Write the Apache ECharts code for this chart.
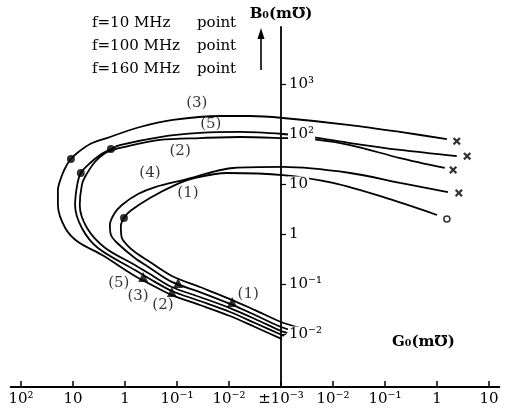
<!DOCTYPE html>
<html>
<head>
<meta charset="utf-8">
<script src="https://cdn.jsdelivr.net/npm/echarts@6/dist/echarts.min.js"></script>
<style>
html,body{margin:0;padding:0;background:#fff;}
#chart{width:509px;height:414px;}
</style>
</head>
<body>
<div id="chart"></div>
<script>
// X axis: symmetric log position of G0 (0 = ±10^-3, left = negative G0 decades, right = positive)
var xTickPos = [-5, -4, -3, -2, -1, 0, 1, 2, 3, 4];
var xTickLabels = ['10²', '10', '1', '10⁻¹', '10⁻²', '±10⁻³', '10⁻²', '10⁻¹', '1', '10'];
var yTickValues = [0.01, 0.1, 1, 10, 100, 1000];
var yTickLabels = ['10⁻²', '10⁻¹', '1', '10', '10²', '10³'];

// Curve (3)
var curve3G = [0.02,-0.50,-0.98,-1.56,-2.10,-2.52,-2.81,-3.44,-3.90,-4.15,-4.29,-4.29,-4.21,-4.12,-4.04,-3.92,-3.67,-3.35,-2.71,-2.08,-1.17,-0.60,0.04,1.33,2.29,3.19];
var curve3B = [0.0079,0.0138,0.0229,0.038,0.060,0.100,0.145,0.38,0.69,1.32,3.8,7.6,15.1,24,31.6,41.7,63,83,138,191,229,229,209,151,110,79];
// Curve (5)
var curve5G = [0.06,-0.50,-0.98,-1.56,-2.10,-2.52,-2.81,-3.52,-3.83,-3.96,-3.92,-3.85,-3.67,-3.48,-3.27,-3.10,-2.33,-1.56,-0.79,0.04,0.60,1.33,2.29,3.38];
var curve5B = [0.0091,0.0166,0.0275,0.0457,0.0724,0.126,0.19,0.525,1.32,3.8,9.5,16.6,26.3,38,50,60,87,105,110,100,87,66,48,36];
// Curve (2)
var curve2G = [0.12,0,-0.50,-0.98,-1.56,-2.10,-2.52,-2.81,-3.38,-3.73,-3.87,-3.83,-3.77,-3.58,-3.38,-3.23,-3.10,-2.33,-1.56,-0.79,0.04,0.60,1.33,2.29,3.15];
var curve2B = [0.0105,0.0115,0.020,0.033,0.055,0.087,0.158,0.24,0.525,1.32,3.8,9.5,13.8,27.5,41.7,47.9,52.5,76,83,87,83,79,60,33,20.9];
// Curve (4)
var curve4G = [0.25,0,-0.50,-0.98,-1.56,-2.10,-2.52,-2.81,-3.15,-3.27,-3.29,-3.21,-3.06,-2.75,-2.42,-1.88,-0.92,0.04,1.33,2.29,3.21];
var curve4B = [0.0115,0.0138,0.024,0.040,0.069,0.11,0.209,0.331,0.66,0.955,1.51,2.51,3.8,6.3,8.7,12.0,20.9,21.9,16.6,10.5,6.9];
// Curve (1)
var curve1G = [0.37,0,-0.50,-0.98,-1.56,-2.10,-2.52,-2.81,-2.96,-3.06,-3.08,-3.02,-2.90,-2.52,-2.04,-1.65,-1.04,0.04,1.00,1.96,3.00];
var curve1B = [0.0132,0.0174,0.030,0.050,0.087,0.145,0.275,0.437,0.60,0.83,1.45,2.09,2.88,5.25,9.5,13.2,16.6,15.1,10.5,5.5,2.4];

// Frequency points
var dotG = [-4.04,-3.85,-3.27,-3.02];
var dotB = [31.6,16.6,50,2.09];
var triG = [-2.65,-1.98,-2.10,-0.94];
var triB = [0.138,0.105,0.069,0.0437];
var crossG = [3.38,3.58,3.31,3.42];
var crossB = [72,36,19.1,6.6];
var ringG = [3.19];
var ringB = [2.0];

// Curve labels
var labelText = ['(3)','(5)','(2)','(4)','(1)','(5)','(3)','(2)','(1)'];
var labelG = [-1.62,-1.35,-1.94,-2.52,-1.79,-3.12,-2.75,-2.27,-0.63];
var labelB = [417,158,45.7,16.6,6.6,0.105,0.0575,0.038,0.063];

function zip(a, b) { return a.map(function (v, i) { return [v, b[i]]; }); }

var FONT = '"DejaVu Serif", "Liberation Serif", serif';
var chart = echarts.init(document.getElementById('chart'), null, {renderer: 'canvas'});

function curve(g, b) {
  return {
    type: 'line', data: zip(g, b), showSymbol: false, smooth: 0.3,
    lineStyle: {color: '#000', width: 1.8}, silent: true, z: 2
  };
}

function txt(x, y, s, size, weight) {
  return {type: 'text', left: x, top: y, z: 20, style: {text: s, fontSize: size || 15, fontWeight: weight || 'normal', fontFamily: FONT, fill: '#000'}};
}

var option = {
  animation: false,
  backgroundColor: '#fff',
  grid: {left: 10.6, right: 9.6, top: 27, bottom: 27, containLabel: false},
  xAxis: {
    type: 'value', min: -5.2, max: 4.2,
    axisLine: {onZero: false, lineStyle: {color: '#000', width: 1.8}},
    axisTick: {show: true, inside: true, length: 6, lineStyle: {color: '#000', width: 1.5}, customValues: xTickPos},
    axisLabel: {
      customValues: xTickPos, margin: 5, color: '#000', fontSize: 15, fontFamily: FONT,
      formatter: function (v) { var i = xTickPos.indexOf(Math.round(v)); return i >= 0 ? xTickLabels[i] : ''; }
    },
    splitLine: {show: false}
  },
  yAxis: {
    type: 'log', logBase: 10, min: 0.000871, max: 13800,
    position: 'left', offset: -270.4, z: 10,
    name: 'B₀(m℧)', nameLocation: 'end', nameGap: 5,
    nameTextStyle: {color: '#000', fontSize: 15, fontWeight: 'bold', fontFamily: FONT},
    axisLine: {onZero: false, lineStyle: {color: '#000', width: 1.8}},
    axisTick: {show: true, inside: true, length: 5, lineStyle: {color: '#000', width: 1.2}, customValues: yTickValues},
    axisLabel: {
      customValues: yTickValues, inside: true, margin: 7, color: '#000', fontSize: 15, fontFamily: FONT,
      backgroundColor: '#fff', padding: [0, 1, 0, 1],
      formatter: function (v) { var e = Math.round(Math.log10(v)); var i = yTickValues.findIndex(function (t) { return Math.round(Math.log10(t)) === e; }); return i >= 0 ? yTickLabels[i] : ''; }
    },
    splitLine: {show: false}
  },
  graphic: [
    txt(92, 16, 'f=10 MHz'), txt(197, 16, 'point'),
    txt(92, 39, 'f=100 MHz'), txt(197, 39, 'point'),
    txt(92, 62, 'f=160 MHz'), txt(197, 62, 'point'),
    txt(392, 335, 'G₀(m℧)', 15, 'bold'),
    {type: 'line', shape: {x1: 261, y1: 70, x2: 261, y2: 36}, style: {stroke: '#000', lineWidth: 1.6}},
    {type: 'polygon', shape: {points: [[257.5, 39], [261, 28], [264.5, 39]]}, style: {fill: '#000'}}
  ],
  series: [
    curve(curve3G, curve3B),
    curve(curve5G, curve5B),
    curve(curve2G, curve2B),
    curve(curve4G, curve4B),
    curve(curve1G, curve1B),
    {type: 'scatter', data: zip(dotG, dotB), symbol: 'circle', symbolSize: 8, itemStyle: {color: '#000'}, z: 5, silent: true},
    {type: 'scatter', data: zip(triG, triB), symbol: 'triangle', symbolSize: 10, itemStyle: {color: '#000'}, z: 5, silent: true},
    {type: 'scatter', data: zip(crossG, crossB), symbol: 'path://M2,0 L5,3 L8,0 L10,2 L7,5 L10,8 L8,10 L5,7 L2,10 L0,8 L3,5 L0,2 Z', symbolSize: 8, itemStyle: {color: '#000'}, z: 5, silent: true},
    {type: 'scatter', data: zip(ringG, ringB), symbol: 'circle', symbolSize: 6, itemStyle: {color: '#fff', borderColor: '#000', borderWidth: 1.6}, z: 5, silent: true},
    {type: 'scatter', data: labelG.map(function (g, i) { return [g, labelB[i], labelText[i]]; }), symbolSize: 0, silent: true, z: 6,
      label: {show: true, position: 'inside', color: '#000', fontSize: 15, fontFamily: FONT, formatter: function (p) { return p.value[2]; }}}
  ]
};
chart.setOption(option);
</script>
</body>
</html>
